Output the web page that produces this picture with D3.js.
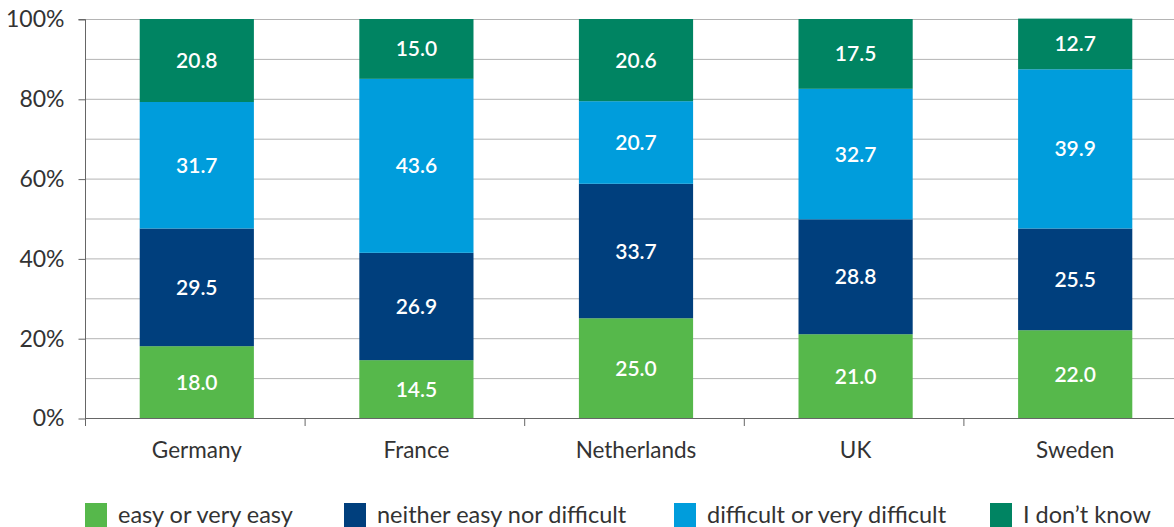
<!DOCTYPE html>
<html>
<head>
<meta charset="utf-8">
<script src="https://cdn.jsdelivr.net/npm/d3@7"></script>
<style>
  body { margin: 0; background: #fff; }
  text { font-family: Lato, "Liberation Sans", sans-serif; }
</style>
</head>
<body>
<div id="chart"></div>
<script>
// chart data
var countries = ["Germany", "France", "Netherlands", "UK", "Sweden"];
var seriesNames = ["easy or very easy", "neither easy nor difficult", "difficult or very difficult", "I don\u2019t know"];
var easy = [18.0, 14.5, 25.0, 21.0, 22.0];
var neither = [29.5, 26.9, 33.7, 28.8, 25.5];
var difficult = [31.7, 43.6, 20.7, 32.7, 39.9];
var dontKnow = [20.8, 15.0, 20.6, 17.5, 12.7];
var yTicks = [0, 20, 40, 60, 80, 100];
var gridLines = [10, 20, 30, 40, 50, 60, 70, 80, 90, 100];

var colors = ["#56b84b", "#003f7d", "#009ddc", "#008462"];

var svgWidth = 1174;
var svgHeight = 527;

var margin = { top: 19, left: 85 };
var plotBottom = 418;
var step = 219.6;

var svg = d3.select("#chart")
  .append("svg")
  .attr("width", svgWidth)
  .attr("height", svgHeight);

// build table for stacking
var rows = countries.map(function (c, i) {
  return { country: c, s0: easy[i], s1: neither[i], s2: difficult[i], s3: dontKnow[i] };
});
var stack = d3.stack().keys(["s0", "s1", "s2", "s3"]);
var layers = stack(rows);

var xScale = d3.scaleBand()
  .domain(countries)
  .range([margin.left, margin.left + step * countries.length])
  .paddingInner(0.48)
  .paddingOuter(0.24);

var yScale = d3.scaleLinear()
  .domain([0, 100])
  .range([plotBottom, margin.top]);

// gridlines
svg.append("g")
  .selectAll("line")
  .data(gridLines)
  .enter()
  .append("line")
  .attr("x1", margin.left)
  .attr("x2", svgWidth)
  .attr("y1", d => yScale(d) + 0.5)
  .attr("y2", d => yScale(d) + 0.5)
  .attr("stroke", "#b4b4b4")
  .attr("stroke-width", 1);

// bars
var layerGroups = svg.append("g")
  .selectAll("g")
  .data(layers)
  .enter()
  .append("g")
  .attr("fill", (d, i) => colors[i]);

layerGroups.selectAll("rect")
  .data(d => d)
  .enter()
  .append("rect")
  .attr("x", d => xScale(d.data.country) + 2)
  .attr("y", d => yScale(d[1]))
  .attr("width", xScale.bandwidth())
  .attr("height", d => yScale(d[0]) - yScale(d[1]));

layerGroups.selectAll("text")
  .data(d => d)
  .enter()
  .append("text")
  .attr("x", d => xScale(d.data.country) + 2 + xScale.bandwidth() / 2)
  .attr("y", d => (yScale(d[0]) + yScale(d[1])) / 2)
  .attr("dy", "0.36em")
  .attr("text-anchor", "middle")
  .attr("fill", "#fff")
  .style("font-size", "21px")
  .style("font-weight", "600")
  .text(d => (d[1] - d[0]).toFixed(1));

// y axis
var leftAxis = d3.axisLeft(yScale)
  .tickValues(yTicks)
  .tickSize(7)
  .tickPadding(14)
  .tickFormat(d => d + "%");

var yAxis = svg.append("g")
  .attr("transform", `translate(${margin.left + 0.5}, 0.5)`)
  .call(leftAxis);
yAxis.select(".domain").attr("stroke", "#666").attr("d", `M-7,${yScale(100)}H0V${plotBottom}`);
yAxis.selectAll(".tick line").attr("stroke", "#666");
yAxis.selectAll(".tick text")
  .attr("fill", "#333")
  .style("font-size", "23px")
  .style("font-family", "Lato, sans-serif");

// x axis
svg.append("line")
  .attr("x1", margin.left)
  .attr("x2", svgWidth)
  .attr("y1", plotBottom + 0.5)
  .attr("y2", plotBottom + 0.5)
  .attr("stroke", "#666");

svg.append("g")
  .selectAll("line")
  .data(countries)
  .enter()
  .append("line")
  .attr("x1", (d, i) => margin.left + step * i + 0.5)
  .attr("x2", (d, i) => margin.left + step * i + 0.5)
  .attr("y1", plotBottom)
  .attr("y2", plotBottom + 8)
  .attr("stroke", "#666");

svg.append("g")
  .selectAll("text")
  .data(countries)
  .enter()
  .append("text")
  .attr("x", d => xScale(d) + 2 + xScale.bandwidth() / 2)
  .attr("y", 458)
  .attr("text-anchor", "middle")
  .attr("fill", "#333")
  .style("font-size", "22.5px")
  .text(d => d);

// legend
var legendX = [85, 344, 674, 990];
var legend = svg.append("g")
  .selectAll("g")
  .data(seriesNames)
  .enter()
  .append("g")
  .attr("transform", (d, i) => `translate(${legendX[i]}, 503)`);

legend.append("rect")
  .attr("width", 22)
  .attr("height", 24)
  .attr("fill", (d, i) => colors[i]);

legend.append("text")
  .attr("x", 33)
  .attr("y", 20)
  .attr("fill", "#333")
  .style("font-size", "23.5px")
  .text(d => d);
</script>
</body>
</html>
